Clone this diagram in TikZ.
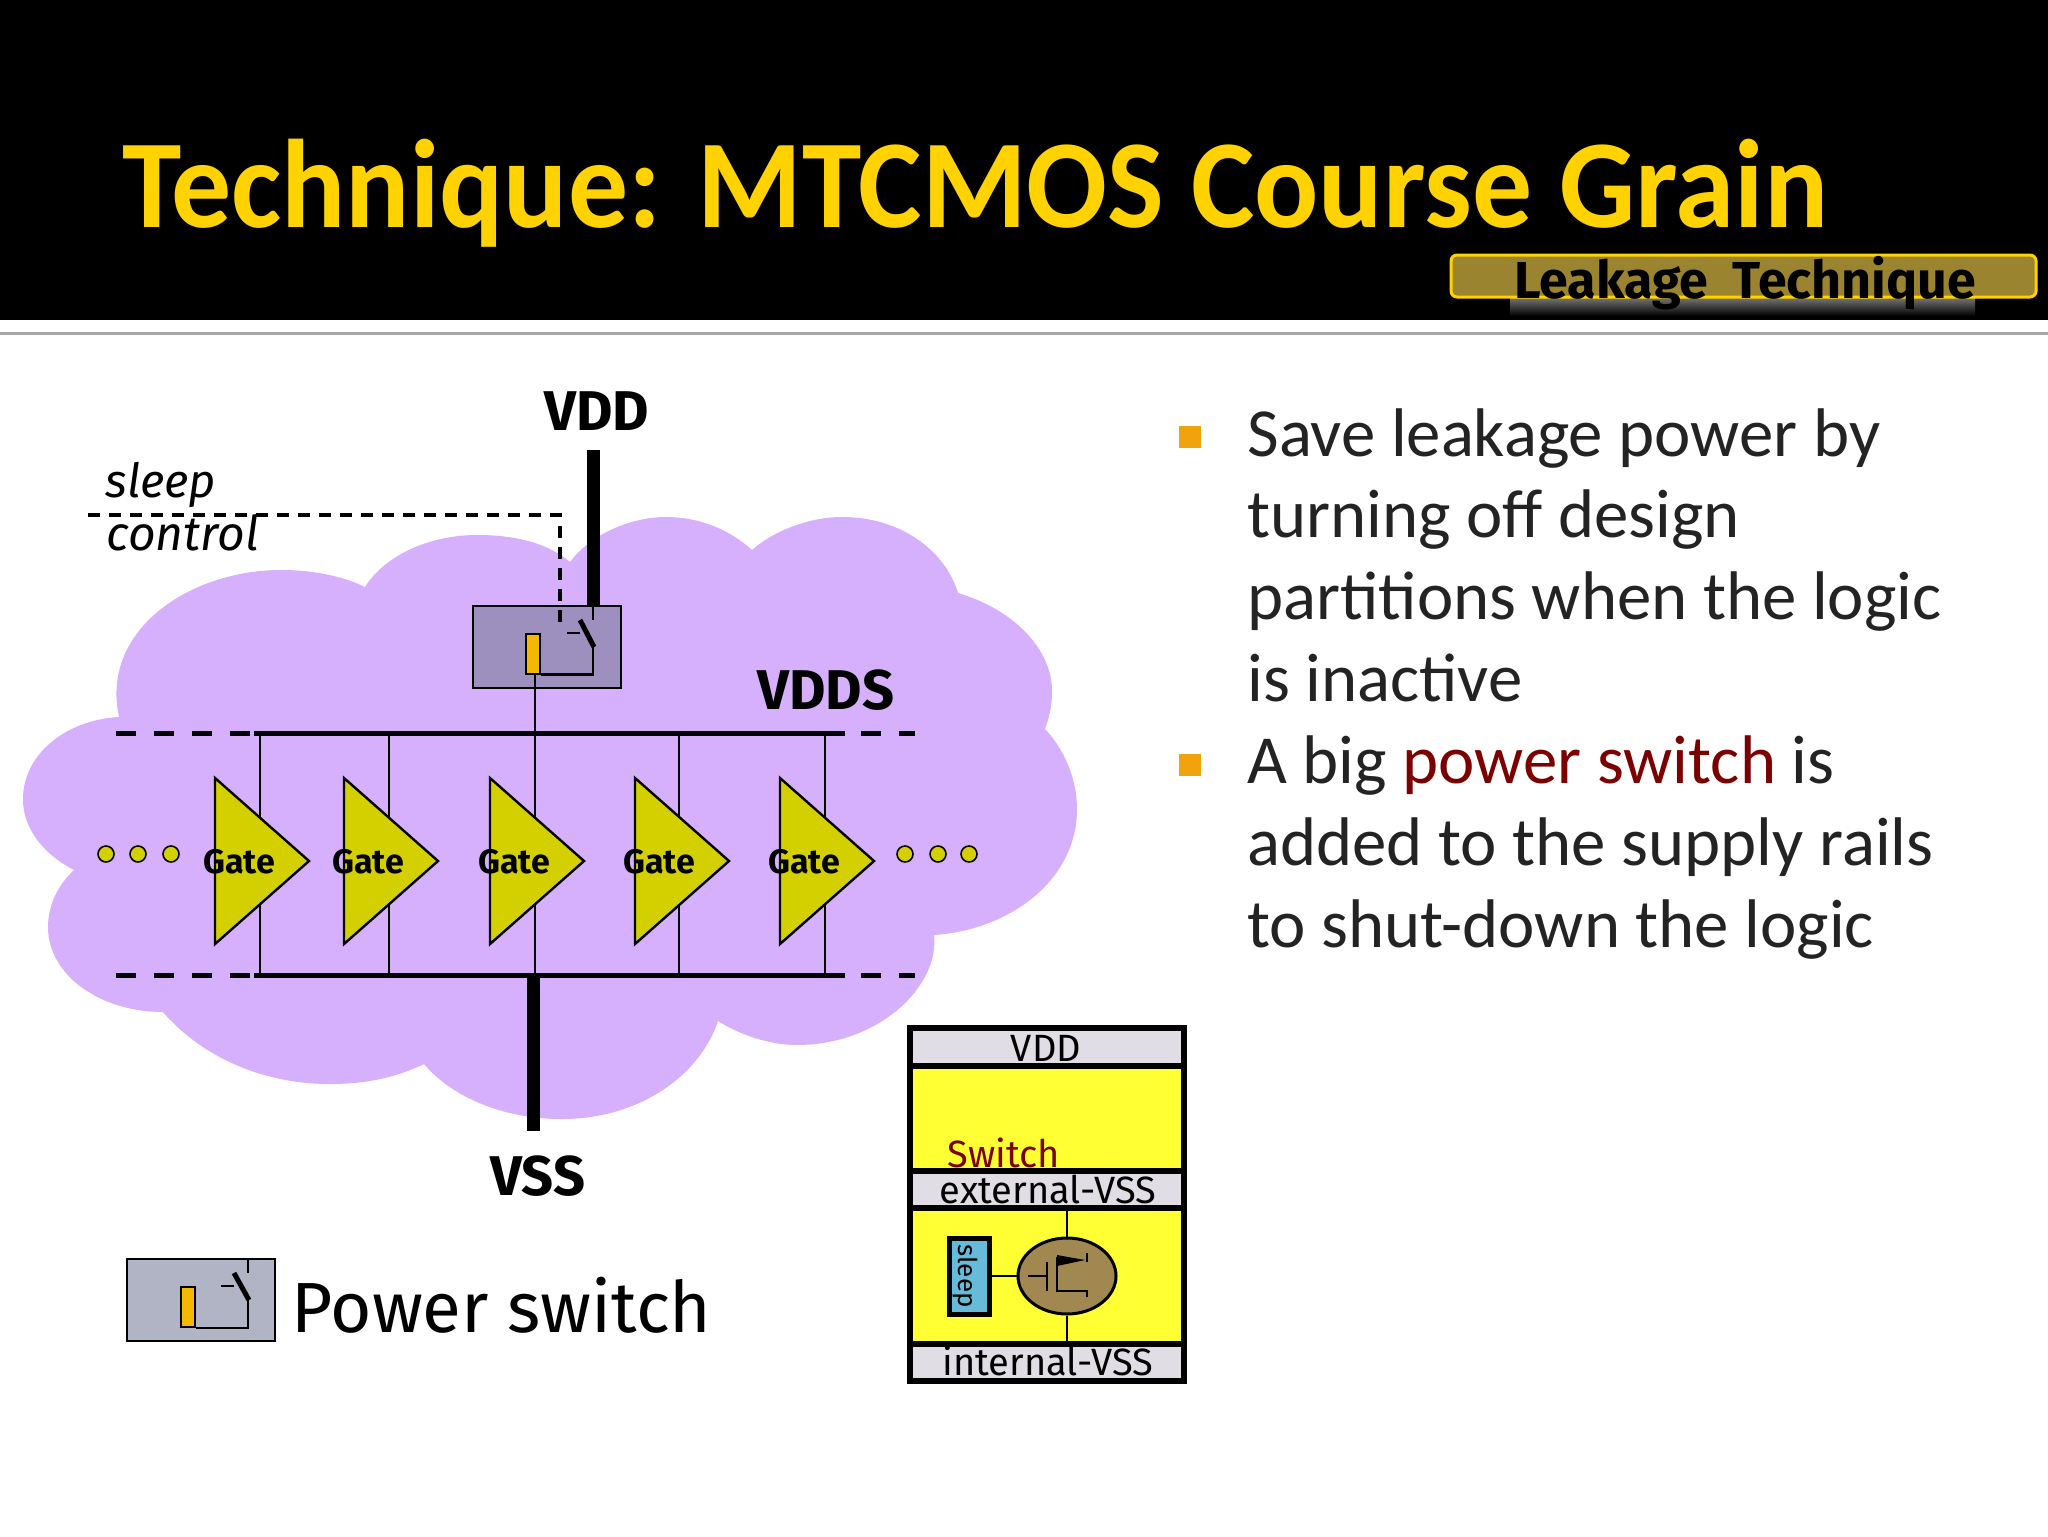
\documentclass[tikz,border=0pt]{standalone}
\usepackage{fontspec}
\setmainfont{Carlito}
\newfontfamily\comic{Fira Sans}
\usetikzlibrary{shapes.geometric}
\definecolor{cloudc}{RGB}{214,176,252}
\definecolor{gatec}{RGB}{212,208,0}
\definecolor{swc}{RGB}{158,144,190}
\definecolor{legc}{RGB}{176,180,196}
\definecolor{barc}{RGB}{245,184,0}
\definecolor{titlec}{RGB}{255,210,0}
\definecolor{tagc}{RGB}{154,132,48}
\definecolor{railc}{RGB}{224,222,228}
\definecolor{cellc}{RGB}{255,255,51}
\definecolor{sleepc}{RGB}{102,187,216}
\definecolor{fetc}{RGB}{160,136,80}
\definecolor{redc}{RGB}{123,0,0}
\definecolor{bulletc}{RGB}{240,163,10}
\definecolor{bodyc}{RGB}{35,35,35}

\begin{document}
\begin{tikzpicture}
    [x=0.5pt,y=-0.5pt]
    \tikzstyle{wire}=[draw,line width=1.2pt]
    \tikzstyle{rail}=[draw,line width=2.5pt]
    \tikzstyle{raildash}=[draw,line width=2.5pt,dash pattern=on 10pt off 9pt]
    \tikzstyle{thickwire}=[draw,line width=6.5pt]
    \tikzstyle{blade}=[draw,line width=2.5pt]
    \tikzstyle{swbox}=[draw,line width=1pt,minimum width=74pt,minimum height=41pt,inner sep=0pt]
    \tikzstyle{swbar}=[draw,line width=1pt,fill=barc,minimum width=7pt,minimum height=20pt,inner sep=0pt]
    \tikzstyle{gatetxt}=[font=\comic\bfseries\fontsize{17}{17}\selectfont,inner sep=0pt,anchor=base]
    \tikzstyle{bigtxt}=[font=\comic\bfseries\fontsize{28}{28}\selectfont,inner sep=0pt,anchor=base]
    \tikzstyle{celltxt}=[font=\comic\fontsize{19}{19}\selectfont,inner sep=0pt,anchor=base]
    \tikzstyle{railbox}=[draw,line width=3pt,fill=railc]
    \tikzstyle{cellbox}=[draw,line width=3pt,fill=cellc]
    \tikzstyle{dot}=[circle,draw,line width=0.8pt,fill=gatec,minimum size=8pt,inner sep=0pt]
    \tikzstyle{bulletbox}=[fill=bulletc,minimum size=11pt,inner sep=0pt]
    \tikzstyle{bodytxt}=[anchor=base west,inner sep=0pt,text=bodyc,align=left,font=\fontsize{34.4}{40.8}\selectfont]
    \useasboundingbox (0,0) rectangle (2048,1536);
    \fill[white] (0,0) rectangle (2048,1536);
    % title band
    \fill[black] (0,0) rectangle (2048,320);
    \draw[line width=1.5pt,black!35] (0,333) -- (2048,333);
    \draw (122,227) node[anchor=base west,inner sep=0pt,text=titlec,xscale=0.95,font=\bfseries\fontsize{63}{63}\selectfont](TITLE) {Technique: MTCMOS Course Grain};
    \shade[top color=white!50!black,bottom color=black] (1510,296) rectangle (1975,316);
    \draw[draw=titlec,fill=tagc,line width=1.5pt,rounded corners=3pt] (1451,255) rectangle (2036,297);
    \draw (1745,298) node[anchor=base,inner sep=0pt,text=black,font=\comic\bfseries\fontsize{26}{26}\selectfont](TAG) {Leakage\ \ Technique};
    % cloud
    \fill[cloudc] (119,717) .. controls (100,630) and (190,570) .. (281,570)
      .. controls (310,570) and (340,575) .. (365,587)
      .. controls (385,555) and (430,535) .. (477,535)
      .. controls (520,535) and (550,545) .. (570,562)
      .. controls (590,535) and (630,517) .. (666,517)
      .. controls (700,517) and (730,530) .. (752,550)
      .. controls (775,530) and (810,517) .. (842,517)
      .. controls (900,517) and (945,550) .. (958,593)
      .. controls (1015,610) and (1052,650) .. (1052,691)
      .. controls (1052,705) and (1050,715) .. (1045,729)
      .. controls (1065,750) and (1077,780) .. (1077,809)
      .. controls (1077,880) and (1010,930) .. (934,935)
      .. controls (940,985) and (880,1045) .. (797,1045)
      .. controls (770,1045) and (740,1035) .. (718,1021)
      .. controls (700,1075) and (640,1119) .. (562,1119)
      .. controls (500,1119) and (450,1095) .. (424,1064)
      .. controls (395,1078) and (365,1084) .. (330,1084)
      .. controls (260,1084) and (200,1055) .. (163,1012)
      .. controls (100,1012) and (48,975) .. (48,927)
      .. controls (48,905) and (58,885) .. (74,870)
      .. controls (45,855) and (23,830) .. (23,799)
      .. controls (23,755) and (65,720) .. (119,717);
    % rails
    \coordinate (VDDSa) at (254,733);
    \coordinate (VDDSb) at (845,733);
    \coordinate (VDDSc) at (861,733);
    \coordinate (VDDSl) at (116,733);
    \coordinate (VDDSr) at (915,733);
    \coordinate (VSSa) at (254,975);
    \coordinate (VSSb) at (845,975);
    \coordinate (VSSc) at (861,975);
    \coordinate (VSSl) at (116,975);
    \coordinate (VSSr) at (915,975);
    \draw[rail] (VDDSa) -- (VDDSb);
    \draw[rail] (VSSa) -- (VSSb);
    \draw[raildash] (VDDSl) -- (VDDSa);
    \draw[raildash] (VSSl) -- (VSSa);
    \draw[raildash] (VDDSc) -- (VDDSr);
    \draw[raildash] (VSSc) -- (VSSr);
    % gates
    \foreach \xg/\xw [count=\i] in {215/260,344/389,490/535,635/679,780/825} {
      \coordinate (TOP\i) at (\xw,733);
      \coordinate (BOT\i) at (\xw,975);
      \coordinate (GIN\i) at (\xw,840);
      \draw[wire] (TOP\i) -- (GIN\i) -- (BOT\i);
      \draw[draw,line width=1.2pt,fill=gatec] (\xg,778) -- (\xg+94,861) -- (\xg,944) -- cycle;
      \draw (\xg+24,873) node[gatetxt](GATE\i) {Gate};
    }
    % dots
    \foreach \xd [count=\i] in {106,138,171,905,938,969} {
      \node[dot] (DOT\i) at (\xd,854) {};
    }
    % power switch in the cloud
    \node[swbox,fill=swc] (SW) at (546.5,647) {};
    \node[swbar] (SWbar) at (533,653.5) {};
    \coordinate (SWtop) at (593,606);
    \coordinate (SWstub) at (593,620);
    \coordinate (SWlatch) at (580,620);
    \coordinate (SWhinge) at (594,647);
    \coordinate (SWend) at (593,647);
    \coordinate (SWtick) at (567,633);
    \coordinate (SWtickb) at (580,633);
    \draw[wire] (SWtop) -- (SWstub);
    \draw[blade] (SWlatch) -- (SWhinge);
    \draw[wire] (SWbar.south east) -| (SWend);
    \draw[wire] (SWtick) -- (SWtickb);
    \draw[wire] (TOP3 |- SWbar.south) -- (TOP3);
    % supply lines
    \coordinate (VDDtop) at (593,450);
    \coordinate (VSSmid) at (533,975);
    \coordinate (VSSend) at (533,1131);
    \draw[thickwire] (VDDtop) -- (SWtop);
    \draw[thickwire] (VSSmid) -- (VSSend);
    % sleep control
    \coordinate (CTLa) at (88,515);
    \coordinate (CTLb) at (560,515);
    \coordinate (CTLc) at (560,629);
    \draw[line width=1.7pt,dash pattern=on 6pt off 4.5pt] (CTLa) -- (CTLb) -- (CTLc);
    \draw (105,497) node[anchor=base west,inner sep=0pt,font=\comic\itshape\fontsize{23.5}{23.5}\selectfont](SLEEPtxt) {sleep};
    \draw (106,550) node[anchor=base west,inner sep=0pt,font=\comic\itshape\fontsize{24}{24}\selectfont](CONTROLtxt) {control};
    \draw (597,430) node[bigtxt](VDDtxt) {VDD};
    \draw (826,709) node[bigtxt](VDDStxt) {VDDS};
    \draw (538,1195) node[bigtxt](VSStxt) {VSS};
    % legend
    \node[swbox,fill=legc] (LEG) at (201,1300) {};
    \node[swbar] (LEGbar) at (188,1307) {};
    \coordinate (LEGtop) at (248,1259);
    \coordinate (LEGstub) at (248,1273);
    \coordinate (LEGlatch) at (234,1273);
    \coordinate (LEGhinge) at (249,1300);
    \coordinate (LEGend) at (248,1300);
    \coordinate (LEGtick) at (221,1286);
    \coordinate (LEGtickb) at (234,1286);
    \draw[wire] (LEGtop) -- (LEGstub);
    \draw[blade] (LEGlatch) -- (LEGhinge);
    \draw[wire] (LEGbar.south east) -| (LEGend);
    \draw[wire] (LEGtick) -- (LEGtickb);
    \draw (291,1332) node[anchor=base west,inner sep=0pt,font=\comic\fontsize{35.5}{35.5}\selectfont](LEGtxt) {Power switch};
    % inset cell
    \draw[railbox] (910,1028) rectangle (1184,1065.5);
    \draw[cellbox] (910,1065.5) rectangle (1184,1170.5);
    \draw[railbox] (910,1170.5) rectangle (1184,1208);
    \draw[cellbox] (910,1208) rectangle (1184,1343.5);
    \draw[railbox] (910,1343.5) rectangle (1184,1381);
    \draw (1046,1061) node[celltxt](CELLvdd) {VDD};
    \draw (1004,1167) node[celltxt,text=redc](CELLswitch) {Switch};
    \draw (1048,1203) node[celltxt](CELLext) {external-VSS};
    \draw (1048,1375) node[celltxt](CELLint) {internal-VSS};
    \coordinate (FETtop) at (1067,1211);
    \coordinate (FETbot) at (1067,1341);
    \node[ellipse,draw,line width=1.5pt,fill=fetc,minimum width=49pt,minimum height=38pt,inner sep=0pt] (FET) at (1067,1276) {};
    \node[draw,line width=2.5pt,fill=sleepc,minimum width=20pt,minimum height=38pt,inner sep=0pt] (SLP) at (969,1276) {};
    \node[rotate=-90,inner sep=0pt,font=\comic\fontsize{13}{13}\selectfont] (SLPtxt) at (965,1276) {sleep};
    \draw[wire] (FETtop) -- (FET.north);
    \draw[wire] (FET.south) -- (FETbot);
    \draw[wire] (SLP.east) -- (FET.west);
    % fet symbol
    \coordinate (FETg) at (1028,1276);
    \coordinate (FETgb) at (1047,1276);
    \draw[wire] (FETg) -- (FETgb);
    \draw[wire] (1047,1262) -- (1047,1291);
    \draw[wire] (1057,1257) -- (1057,1291) -- (1087,1291) -- (1087,1297);
    \draw[wire] (1087,1253) -- (1087,1262);
    \fill (1057,1255) -- (1085,1260) -- (1057,1266) -- cycle;
    % bullets
    \node[bulletbox] (BUL1) at (1190,437) {};
    \node[bulletbox] (BUL2) at (1190,765) {};
    \draw (1247,701) node[bodytxt](BODY1) {Save leakage power by\\turning off design\\partitions when the logic\\is inactive};
    \draw (1247,947) node[bodytxt](BODY2) {A big {\color{redc}power switch} is\\added to the supply rails\\to shut-down the logic};
\end{tikzpicture}
\end{document}
